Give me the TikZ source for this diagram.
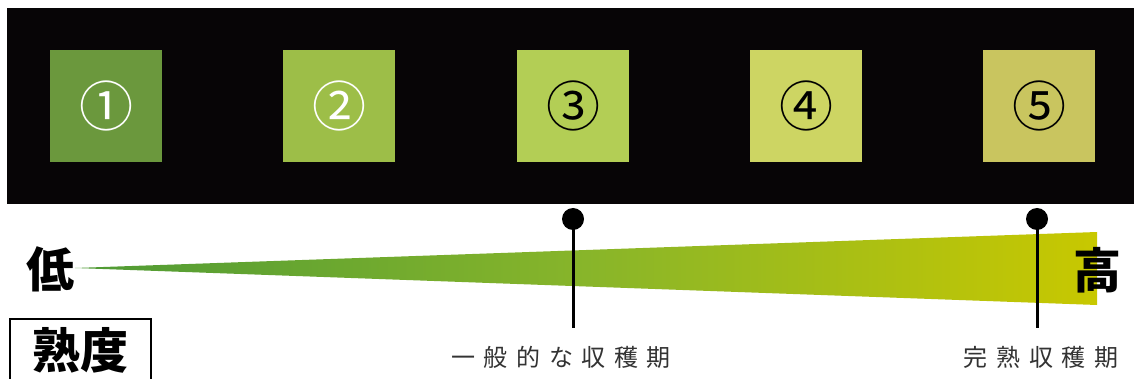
\documentclass[tikz,border=0pt]{standalone}
\usepackage{fontspec}
\newfontfamily\cjk{Noto Sans CJK JP}
\usetikzlibrary{calc}
\definecolor{sqA}{HTML}{6B983D}
\definecolor{sqB}{HTML}{9DBE48}
\definecolor{sqC}{HTML}{B3CE55}
\definecolor{sqD}{HTML}{CDD563}
\definecolor{sqE}{HTML}{C9C55F}
\definecolor{wedgeL}{HTML}{4E9A35}
\definecolor{wedgeM}{HTML}{88B52A}
\definecolor{wedgeR}{HTML}{C8C800}
\definecolor{band}{HTML}{070506}
\tikzset{
  stage/.style={minimum width=112pt, minimum height=112pt, inner sep=0pt, font=\cjk\fontsize{54}{54}\selectfont},
  pin/.style={circle, fill=black, minimum width=22pt, minimum height=22pt, inner sep=0pt},
  pinline/.style={line width=3pt, black},
  harvest/.style={font=\cjk\addfontfeature{LetterSpace=36}\fontsize{24}{24}\selectfont, text=black!80, inner sep=0pt},
  bigchar/.style={font=\cjk\bfseries\fontsize{48}{48}\selectfont, inner sep=0pt}
}
\begin{document}
\begin{tikzpicture}[x=1pt,y=-1pt]
\useasboundingbox (0,0) rectangle (1134,379);
\fill[white] (0,0) rectangle (1134,379);
\fill[band] (7,8) rectangle (1134,204);
\node[stage, fill=sqA, text=white] (s1) at (106,106) {①};
\node[stage, fill=sqB, text=white] (s2) at (339,106) {②};
\node[stage, fill=sqC, text=black] (s3) at (573,106) {③};
\node[stage, fill=sqD, text=black] (s4) at (806,106) {④};
\node[stage, fill=sqE, text=black] (s5) at (1039,106) {⑤};
\shade[left color=wedgeL, right color=wedgeR, middle color=wedgeM]
  (75,268) -- (1097,232) -- (1097,305) -- cycle;
\node[bigchar] (low) at (51,269) {低};
\node[bigchar] (high) at (1097,270) {高};
\node[draw=black, line width=2pt, minimum width=141pt, minimum height=80pt, anchor=north west, inner sep=0pt] (box) at (9,318) {};
\node[bigchar] (ripe) at (80,350) {熟度};
\node[pin] (p1) at (573,219) {};
\coordinate (e1) at (573,328);
\draw[pinline] (p1.center) -- (e1);
\node[harvest] (l1) at (561,357) {一般的な収穫期};
\node[pin] (p2) at (1037,219) {};
\coordinate (e2) at (1037,328);
\draw[pinline] (p2.center) -- (e2);
\node[harvest] (l2) at (1041,357) {完熟収穫期};
\end{tikzpicture}
\end{document}
